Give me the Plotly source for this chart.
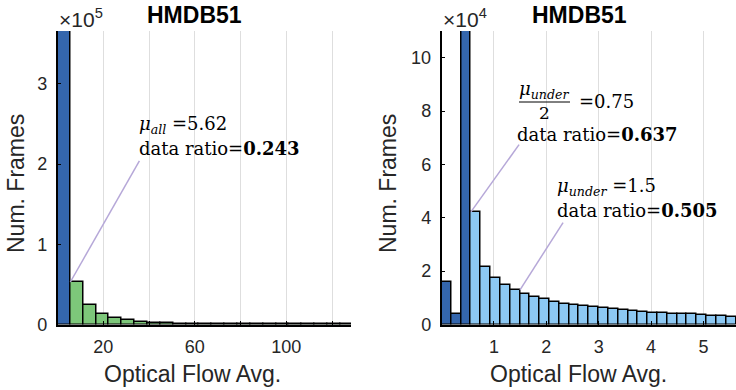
import numpy as np
import plotly.graph_objects as go

W, H = 736, 390

# ---------------- data ----------------
left_bin_width = 5.62
left_counts = [366000, 53000, 24000, 13300, 7900, 5000, 3300, 2000, 1400, 1000,
               700, 500, 400, 300, 300, 200, 200, 200, 100, 100, 100, 100, 100]
left_n_under = 1
left_xticks = [20, 60, 100]
left_xticklabels = ["20", "60", "100"]
left_xminor = [40, 80, 120]
left_yticks = [0, 100000, 200000, 300000]
left_yticklabels = ["0", "1", "2", "3"]

right_bin_width = 5.62 / 30
right_counts = [15900, 4000, 110000, 42200, 21500, 17300, 14700, 13000, 11300, 10400,
                9600, 8600, 7800, 7300, 6800, 6400, 6000, 5700, 5500, 5100,
                4700, 4400, 4300, 4100, 4000, 3800, 3500, 3300, 3200, 3000]
right_n_under = 3
right_xticks = [1, 2, 3, 4, 5]
right_xticklabels = ["1", "2", "3", "4", "5"]
right_yticks = [0, 20000, 40000, 60000, 80000, 100000]
right_yticklabels = ["0", "2", "4", "6", "8", "10"]

DARK = "#3466ad"
GREEN = "#7dc77a"
LIGHT = "#8cc8f3"
LAV = "#b6a8d8"
GRID = "#dedede"

SANS = "Liberation Sans, Arial, sans-serif"
SERIF = "DejaVu Serif, serif"


def fx(p):
    return p / W


def fy(p):
    return 1 - p / H


fig = go.Figure()

lx = (np.arange(len(left_counts)) + 0.5) * left_bin_width
lcol = [DARK if i < left_n_under else GREEN for i in range(len(left_counts))]
fig.add_trace(go.Bar(x=lx, y=left_counts, width=left_bin_width, marker=dict(color=lcol, line=dict(color="black", width=1.5)),
                     xaxis="x", yaxis="y", showlegend=False, hoverinfo="skip"))

rx = (np.arange(len(right_counts)) + 0.5) * right_bin_width
rcol = [DARK if i < right_n_under else LIGHT for i in range(len(right_counts))]
fig.add_trace(go.Bar(x=rx, y=right_counts, width=right_bin_width, marker=dict(color=rcol, line=dict(color="black", width=1.5)),
                     xaxis="x2", yaxis="y2", showlegend=False, hoverinfo="skip"))

ydom = [fy(324.5), fy(31)]
axis_common = dict(showline=True, linecolor="black", linewidth=1.5, ticks="inside", ticklen=4,
                   tickcolor="black", tickfont=dict(family=SANS, size=18, color="#262626"), zeroline=False,
                   automargin=False, ticklabelstandoff=5)

fig.update_layout(
    width=W, height=H, margin=dict(l=0, r=0, t=0, b=0, autoexpand=False),
    plot_bgcolor="white", paper_bgcolor="white", bargap=0,
    xaxis=dict(domain=[fx(57.5), fx(351)], range=[0, 128.3], tickvals=left_xticks, ticktext=left_xticklabels,
               showgrid=True, gridcolor=GRID, gridwidth=1, anchor="y",
               minor=dict(tickvals=left_xminor, showgrid=True, gridcolor=GRID, gridwidth=1,
                          ticks="inside", ticklen=4, tickcolor="black"),
               **axis_common),
    yaxis=dict(domain=ydom, range=[0, 366000], tickvals=left_yticks, ticktext=left_yticklabels,
               showgrid=False, anchor="x", **axis_common),
    xaxis2=dict(domain=[fx(441.5), 1.0], range=[0, 5.62], tickvals=right_xticks, ticktext=right_xticklabels,
                showgrid=True, gridcolor=GRID, gridwidth=1, anchor="y2", **axis_common),
    yaxis2=dict(domain=ydom, range=[0, 110000], tickvals=right_yticks, ticktext=right_yticklabels,
                showgrid=False, anchor="x2", **axis_common),
)

ann = []


def text(x, y, s, size, family=SANS, xanchor="center", yanchor="middle", angle=0, color="#262626"):
    ann.append(dict(x=fx(x), y=fy(y), xref="paper", yref="paper", text=s, showarrow=False,
                    font=dict(family=family, size=size, color=color), xanchor=xanchor, yanchor=yanchor,
                    textangle=angle, borderpad=0))


# titles
text(194, 15, "<b>HMDB51</b>", 23, color="black")
text(579, 15, "<b>HMDB51</b>", 23, color="black")
# exponent labels
text(58, 18, "×10<sup>5</sup>", 21, xanchor="left")
text(442, 18, "×10<sup>4</sup>", 21, xanchor="left")
# axis titles
text(192.5, 374, "Optical Flow Avg.", 23)
text(578, 374, "Optical Flow Avg.", 23)
text(16, 184, "Num. Frames", 23, angle=-90)
text(388, 184, "Num. Frames", 23, angle=-90)

# math annotations
text(138, 125, "<i>μ<sub>all</sub></i> =5.62", 18, family=SERIF, xanchor="left", color="black")
text(138, 148, "data ratio=<b>0.243</b>", 18, family=SERIF, xanchor="left", color="black")

text(544, 90, "<i>μ<sub>under</sub></i>", 18, family=SERIF, color="black")
text(544, 113, "2", 17, family=SERIF, color="black")
text(578, 102, "=0.75", 18, family=SERIF, xanchor="left", color="black")
text(516, 134, "data ratio=<b>0.637</b>", 18, family=SERIF, xanchor="left", color="black")

text(556, 187, "<i>μ<sub>under</sub></i> =1.5", 18, family=SERIF, xanchor="left", color="black")
text(556, 210, "data ratio=<b>0.505</b>", 18, family=SERIF, xanchor="left", color="black")

fig.update_layout(annotations=ann)

# leader lines (data coordinates: from label to the bar top they point at)
def leader(xref, yref, x0, y0, x1, y1):
    fig.add_shape(type="line", xref=xref, yref=yref, x0=x0, y0=y0, x1=x1, y1=y1,
                  line=dict(color=LAV, width=1.5))


leader("x", "y", 35.8, 204000, left_bin_width, left_counts[1])
leader("x2", "y2", 1.48, 67400, right_n_under * right_bin_width, right_counts[3])
leader("x2", "y2", 2.32, 38200, 8 * right_bin_width, right_counts[7])

# fraction bar
fig.add_shape(type="line", xref="paper", yref="paper", x0=fx(519), x1=fx(570), y0=fy(102), y1=fy(102),
              line=dict(color="black", width=1))

fig.write_html("out.html")
